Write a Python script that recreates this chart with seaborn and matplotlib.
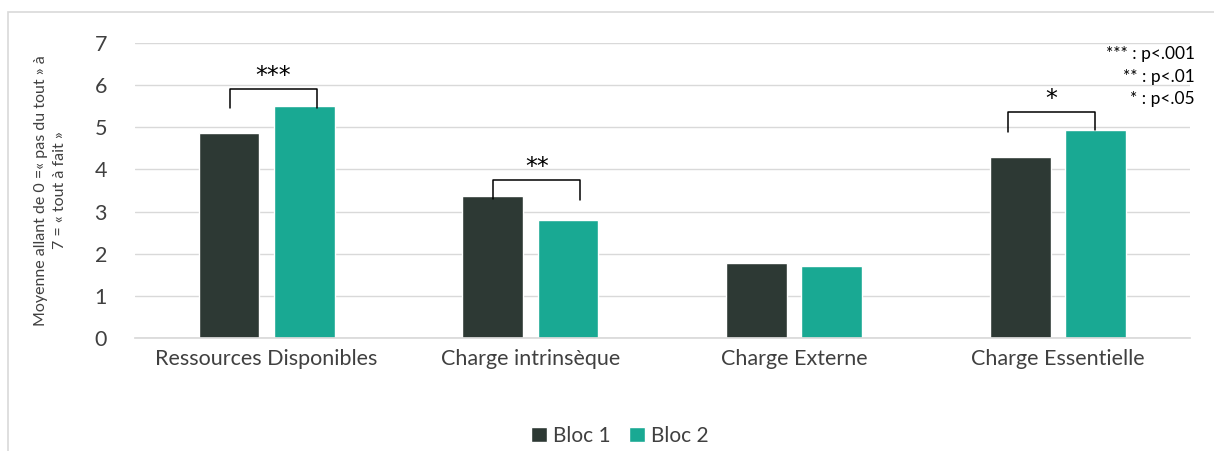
import pandas as pd
import matplotlib.pyplot as plt
import seaborn as sns
from matplotlib.patches import Rectangle

categories = ['Ressources Disponibles', 'Charge intrinsèque', 'Charge Externe', 'Charge Essentielle']
bloc1 = [4.86, 3.38, 1.77, 4.30]
bloc2 = [5.50, 2.81, 1.71, 4.93]
groups = ['Bloc 1', 'Bloc 2']
colors = {'Bloc 1': '#2D3934', 'Bloc 2': '#19A993'}

# significance brackets: category index, stars, bracket top, left leg end, right leg end
sig_idx = [0, 1, 3]
sig_stars = ['***', '**', '*']
sig_top = [5.91, 3.75, 5.36]
sig_left = [5.46, 3.30, 4.89]
sig_right = [5.46, 3.27, 4.94]
sig_legend = ['*** : p<.001', '** : p<.01', '* : p<.05']

df = pd.DataFrame({
    'Catégorie': categories * 2,
    'Bloc': ['Bloc 1'] * 4 + ['Bloc 2'] * 4,
    'Moyenne': bloc1 + bloc2,
})

sns.set_theme(style="whitegrid")
plt.rcParams['font.family'] = ['Lato', 'DejaVu Sans']
text_col = '#404040'

fig = plt.figure(figsize=(12.14, 4.51), dpi=100)
ax = fig.add_axes([0.111, 0.2506, 0.869, 0.6541])

sns.barplot(data=df, x='Catégorie', y='Moyenne', hue='Bloc', palette=colors,
            width=0.57, gap=0.19, saturation=1, ax=ax, legend=True)

ax.set_ylim(0, 7)
ax.set_xlim(-0.5, 3.5)
ax.set_yticks(range(8))
ax.grid(axis='y', color='#D9D9D9', linewidth=1)
ax.grid(axis='x', visible=False)
for s in ['top', 'right', 'left']:
    ax.spines[s].set_visible(False)
ax.spines['bottom'].set_color('#D9D9D9')
ax.tick_params(axis='both', length=0, labelsize=15.5, colors=text_col, pad=8)
ax.tick_params(axis='y', pad=20)
ax.set_xlabel('')
ax.set_ylabel('Moyenne allant de 0 =« pas du tout » à\n7 = « tout à fait »',
              fontsize=11.5, color=text_col, labelpad=20, linespacing=1.4)

for i, st, top, yl, yr in zip(sig_idx, sig_stars, sig_top, sig_left, sig_right):
    xl = i - 0.14 if i < 3 else i - 0.19
    xr = i + 0.19 if i < 3 else i + 0.14
    ax.plot([xl, xl, xr, xr], [yl, top, top, yr], color='black', linewidth=1.1)
    ax.text((xl + xr) / 2, top + 0.02, st, ha='center', va='bottom', fontsize=17,
            color='black', family='DejaVu Sans')

for k, t in enumerate(sig_legend):
    ax.text(1.005, 0.962 - k * 0.076, t, ha='right', va='center', fontsize=12.5,
            color='black', transform=ax.transAxes)

handles, labels = ax.get_legend_handles_labels()
ax.legend(handles, labels, loc='upper center', bbox_to_anchor=(0.46, -0.235), ncol=2,
          frameon=False, fontsize=15, handlelength=0.75, handleheight=0.75,
          handletextpad=0.3, columnspacing=0.9, labelcolor=text_col)

fig.patches.append(Rectangle((0.007, -0.01), 1.0, 0.983, transform=fig.transFigure,
                             fill=False, edgecolor='#D9D9D9', linewidth=1.2))

fig.savefig('out.png', dpi=100)
